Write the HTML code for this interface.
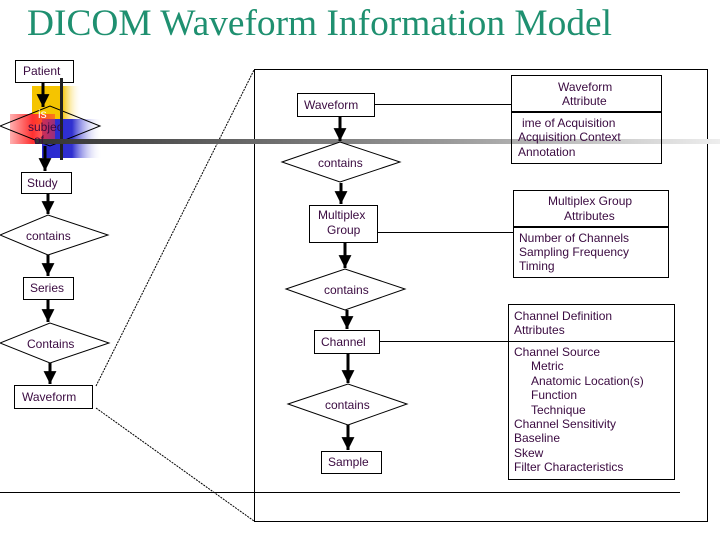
<!DOCTYPE html>
<html><head><meta charset="utf-8"><style>
html,body{margin:0;padding:0;background:#fff;width:720px;height:540px;overflow:hidden}
svg text{font-family:"Liberation Sans",sans-serif;font-size:12px;fill:#3a0a40}
</style></head><body>
<svg width="720" height="540" viewBox="0 0 720 540" xmlns="http://www.w3.org/2000/svg">
<defs>
<marker id="a" viewBox="0 0 10 10" refX="10" refY="5" markerWidth="4.3" markerHeight="4.3" orient="auto"><path d="M0,0L10,5L0,10z" fill="#000"/></marker>
<linearGradient id="g" x1="0" x2="1"><stop offset="0" stop-color="#333"/><stop offset="0.6" stop-color="#999"/><stop offset="1" stop-color="#eee"/></linearGradient>
<linearGradient id="y" x1="0" x2="1"><stop offset="0" stop-color="#f5c400"/><stop offset="0.6" stop-color="#f5c400"/><stop offset="1" stop-color="#fff" stop-opacity="0"/></linearGradient>
<linearGradient id="b" x1="0" x2="1"><stop offset="0" stop-color="#2a2ad0"/><stop offset="0.5" stop-color="#3030d0"/><stop offset="1" stop-color="#fff" stop-opacity="0"/></linearGradient>
<linearGradient id="r" x1="0" x2="1"><stop offset="0" stop-color="#ffb0b0"/><stop offset="0.5" stop-color="#ff3030"/><stop offset="1" stop-color="#ff3030" stop-opacity="0.5"/></linearGradient>
</defs>
<text x="27" y="35" textLength="585" lengthAdjust="spacingAndGlyphs" style="font-family:'Liberation Serif',serif;font-size:37px;fill:#1f9070">DICOM Waveform Information Model</text>

<rect x="32" y="86" width="50" height="38" fill="url(#y)"/>
<rect x="42" y="119" width="60" height="39" fill="url(#b)"/>
<rect x="10" y="114" width="45" height="30" fill="url(#r)"/>

<rect x="254.5" y="69.5" width="453" height="452" fill="none" stroke="#000"/>
<line x1="0" y1="492.5" x2="680" y2="492.5" stroke="#000"/>
<line x1="96" y1="386" x2="254" y2="70" stroke="#000" stroke-dasharray="2,1"/>
<line x1="96" y1="408" x2="254" y2="521" stroke="#000" stroke-dasharray="2,1"/>

<g stroke="#000" fill="#fff">
<rect x="15.5" y="60.5" width="58" height="22"/>
<polygon points="0,126 50,106 100,126 50,146" fill="none"/>
<rect x="21.5" y="172.5" width="50" height="21"/>
<polygon points="0,235 48,215 108,235 48,255"/>
<rect x="23.5" y="277.5" width="50" height="22"/>
<polygon points="0,343 50,323 109,343 50,363"/>
<rect x="14.5" y="385.5" width="78" height="23"/>
</g>
<rect x="60" y="78" width="3" height="82" fill="#222"/>
<rect x="35" y="139" width="685" height="5" fill="url(#g)"/>
<g stroke="#000" stroke-width="3" marker-end="url(#a)">
<line x1="43" y1="83" x2="43" y2="107"/>
<line x1="45" y1="146" x2="45" y2="171"/>
<line x1="48" y1="194" x2="48" y2="214"/>
<line x1="48" y1="255" x2="48" y2="276"/>
<line x1="48" y1="300" x2="48" y2="322"/>
<line x1="50" y1="363" x2="50" y2="384"/>
</g>
<text x="23" y="75">Patient</text>
<text x="38" y="118" style="fill:#fff">is</text>
<text x="28" y="131">subjec</text>
<text x="34" y="144">of</text>
<text x="27" y="187">Study</text>
<text x="26" y="240">contains</text>
<text x="30" y="292">Series</text>
<text x="27" y="348">Contains</text>
<text x="22" y="401">Waveform</text>

<g stroke="#000" fill="#fff">
<rect x="297.5" y="93.5" width="77" height="23"/>
<polygon points="282,162 340,142 400,162 340,182"/>
<rect x="309.5" y="205.5" width="68" height="37"/>
<polygon points="286,289 345,269 405,289 345,310"/>
<rect x="314.5" y="330.5" width="65" height="23"/>
<polygon points="288,404 348,384 407,404 348,425"/>
<rect x="321.5" y="451.5" width="60" height="22"/>
</g>
<g stroke="#000" stroke-width="3" marker-end="url(#a)">
<line x1="340" y1="117" x2="340" y2="141"/>
<line x1="341" y1="183" x2="341" y2="204"/>
<line x1="345" y1="243" x2="345" y2="268"/>
<line x1="347" y1="310" x2="347" y2="329"/>
<line x1="348" y1="354" x2="348" y2="383"/>
<line x1="348" y1="425" x2="348" y2="450"/>
</g>
<g stroke="#000">
<line x1="375" y1="104.5" x2="511" y2="104.5"/>
<line x1="378" y1="232.5" x2="513" y2="232.5"/>
<line x1="380" y1="341.5" x2="508" y2="341.5"/>
</g>
<text x="304" y="109">Waveform</text>
<text x="318" y="167">contains</text>
<text x="318" y="219">Multiplex</text>
<text x="327" y="234">Group</text>
<text x="324" y="294">contains</text>
<text x="321" y="346">Channel</text>
<text x="325" y="409">contains</text>
<text x="328" y="466">Sample</text>

<g stroke="#000" fill="none">
<rect x="511.5" y="75.5" width="150" height="88"/>
<line x1="511" y1="112" x2="662" y2="112" stroke-width="2"/>
<rect x="513.5" y="190.5" width="155" height="87"/>
<line x1="513" y1="227" x2="669" y2="227" stroke-width="2"/>
<rect x="508.5" y="304.5" width="166" height="175"/>
<line x1="508" y1="341.5" x2="675" y2="341.5"/>
</g>
<text x="558" y="91">Waveform</text>
<text x="562" y="105">Attribute</text>
<text x="522" y="127">ime of Acquisition</text>
<text x="518" y="141">Acquisition Context</text>
<text x="518" y="156">Annotation</text>
<text x="548" y="205">Multiplex Group</text>
<text x="564" y="220">Attributes</text>
<text x="519" y="242">Number of Channels</text>
<text x="519" y="256">Sampling Frequency</text>
<text x="519" y="270">Timing</text>
<text x="514" y="320">Channel Definition</text>
<text x="514" y="334">Attributes</text>
<text x="514" y="356">Channel Source</text>
<text x="531" y="370">Metric</text>
<text x="531" y="385">Anatomic Location(s)</text>
<text x="531" y="399">Function</text>
<text x="531" y="414">Technique</text>
<text x="514" y="428">Channel Sensitivity</text>
<text x="514" y="442">Baseline</text>
<text x="514" y="457">Skew</text>
<text x="514" y="471">Filter Characteristics</text>
</svg>
</body></html>
